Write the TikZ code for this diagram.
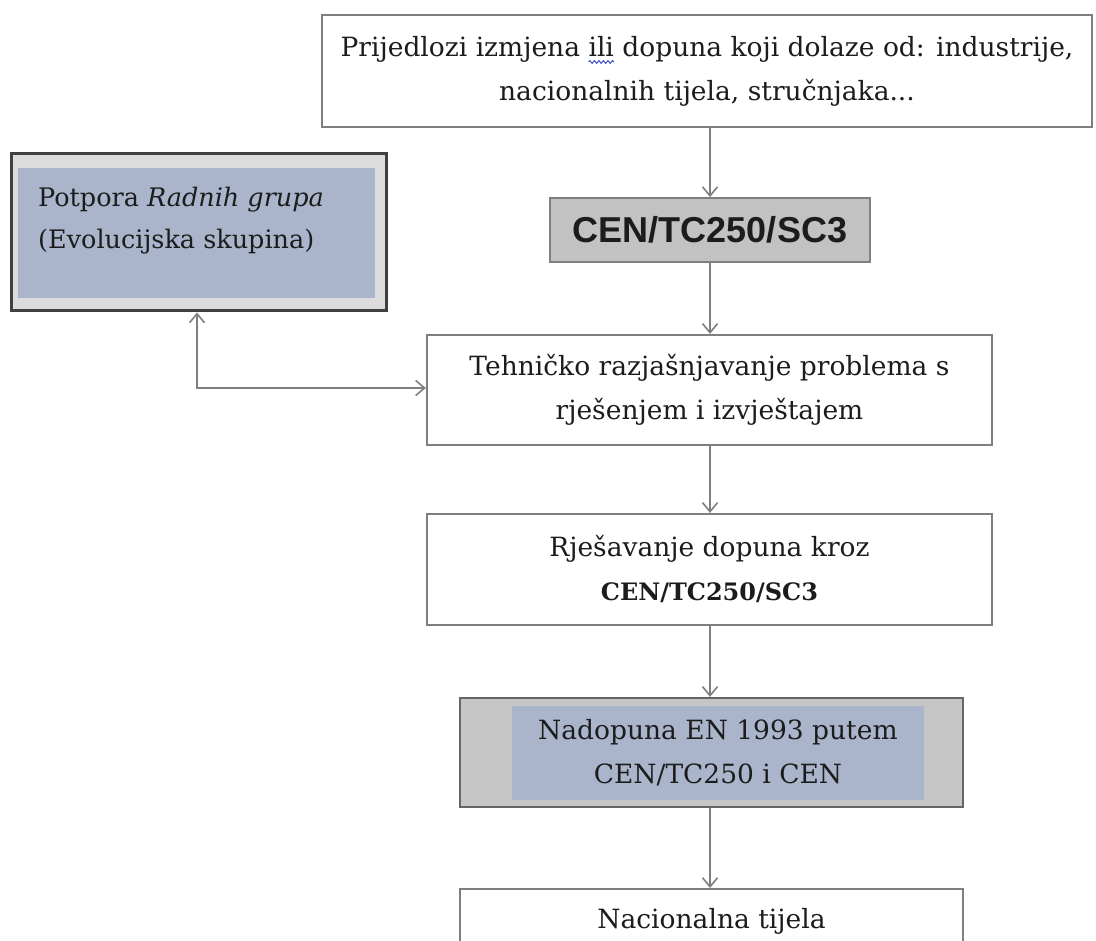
\documentclass[tikz,border=0pt]{standalone}
\usepackage{fontspec}
\setmainfont{DejaVu Serif}
\newfontfamily\arialfont{Liberation Sans}
\usetikzlibrary{arrows.meta,decorations.pathmorphing}
\definecolor{linegray}{HTML}{7F7F7F}
\definecolor{cenfill}{HTML}{C2C2C2}
\definecolor{ltgray}{HTML}{DCDCDC}
\definecolor{bluefill}{HTML}{AAB5CB}
\definecolor{nadfill}{HTML}{C6C6C6}
\definecolor{txt}{HTML}{1C1C1C}
\definecolor{squigblue}{HTML}{3A4FC8}
\newlength\wpre \newlength\wili \newlength\wline
\begin{document}
\settowidth\wpre{\fontsize{26.5}{44}\selectfont Prijedlozi izmjena\ }%
\settowidth\wili{\fontsize{26.5}{44}\selectfont ili}%
\settowidth\wline{\fontsize{26.5}{44}\selectfont Prijedlozi izmjena ili dopuna koji dolaze od: industrije,}%
\begin{tikzpicture}[x=1pt,y=1pt,
  every node/.style={text=txt, inner sep=0pt},
  mainfont/.style={font=\fontsize{26.5}{44}\selectfont},
  whitebox/.style={draw=linegray, line width=2.2pt, fill=white, mainfont, align=center},
  cenbox/.style={draw=linegray, line width=1.8pt, fill=cenfill, font=\arialfont\bfseries\fontsize{36}{40}\selectfont},
  conn/.style={draw=linegray, line width=1.8pt, -{Straight Barb[length=9pt,width=15pt,line width=1.6pt]}},
  bconn/.style={draw=linegray, line width=1.8pt, {Straight Barb[length=9pt,width=15pt,line width=1.6pt]}-{Straight Barb[length=9pt,width=15pt,line width=1.6pt]}},
  squig/.style={draw=squigblue, line width=1pt, decorate, decoration={snake, amplitude=1.4pt, segment length=4.5pt}}
]
\useasboundingbox (0,0) rectangle (1096,-941);
\clip (0,0) rectangle (1096,-941);
\fill[white] (0,0) rectangle (1096,-941);

% top box
\node[whitebox, minimum width=770pt, minimum height=112pt] (top) at (707,-71)
  {Prijedlozi izmjena ili dopuna koji dolaze od: industrije,\\nacionalnih tijela, stručnjaka...};
\pgfmathsetmacro\sqx{707-0.5*\wline+\wpre}
\pgfmathsetmacro\sqe{\sqx+\wili}
\coordinate (sqa) at (\sqx,-62);
\coordinate (sqb) at (\sqe,-62);
\draw[squig] (sqa) -- (sqb);

% CEN
\node[cenbox, minimum width=320pt, minimum height=64pt] (cen) at (710,-230) {CEN/TC250/SC3};

% left support box
\node[draw=black!75, line width=3pt, fill=ltgray, minimum width=375pt, minimum height=157pt] (sup) at (198.5,-232.5) {};
\node[fill=bluefill, minimum width=357pt, minimum height=130pt] (supin) at (196.5,-233) {};
\node[anchor=north west, align=left, font=\fontsize{25.5}{42}\selectfont] (suptxt) at (38,-187)
  {Potpora \textit{Radnih grupa}\\(Evolucijska skupina)};

% technical
\node[whitebox, minimum width=565pt, minimum height=110pt] (teh) at (709.5,-390)
  {Tehničko razjašnjavanje problema s\\rješenjem i izvještajem};

% rjesavanje
\node[whitebox, minimum width=565pt, minimum height=111pt] (rje) at (709.5,-569.5)
  {Rješavanje dopuna kroz\\{\fontsize{24}{44}\selectfont\bfseries CEN/TC250/SC3}};

% nadopuna
\node[draw=black!60, line width=2.2pt, fill=nadfill, minimum width=503pt, minimum height=109pt] (nad) at (711.5,-752.5) {};
\node[fill=bluefill, minimum width=412pt, minimum height=94pt, mainfont, align=center] (nadin) at (718,-753)
  {Nadopuna EN 1993 putem\\CEN/TC250 i CEN};

% nacionalna
\node[whitebox, minimum width=503pt, minimum height=110pt, anchor=north] (nac) at (711.5,-888) {};
\node[mainfont, anchor=base] (nactxt) at (nac.north |- 0,-928) {Nacionalna tijela};

% connectors
\coordinate (ax) at (710,0);
\draw[conn] (top.south -| ax) -- (cen.north -| ax);
\draw[conn] (cen.south -| ax) -- (teh.north -| ax);
\draw[conn] (teh.south -| ax) -- (rje.north -| ax);
\draw[conn] (rje.south -| ax) -- (nad.north -| ax);
\draw[conn] (nad.south -| ax) -- (nac.north -| ax);
\coordinate (bend) at (197,-388);
\draw[bconn] (sup.south -| bend) -- (bend) -- (teh.west |- bend);
\end{tikzpicture}
\end{document}
